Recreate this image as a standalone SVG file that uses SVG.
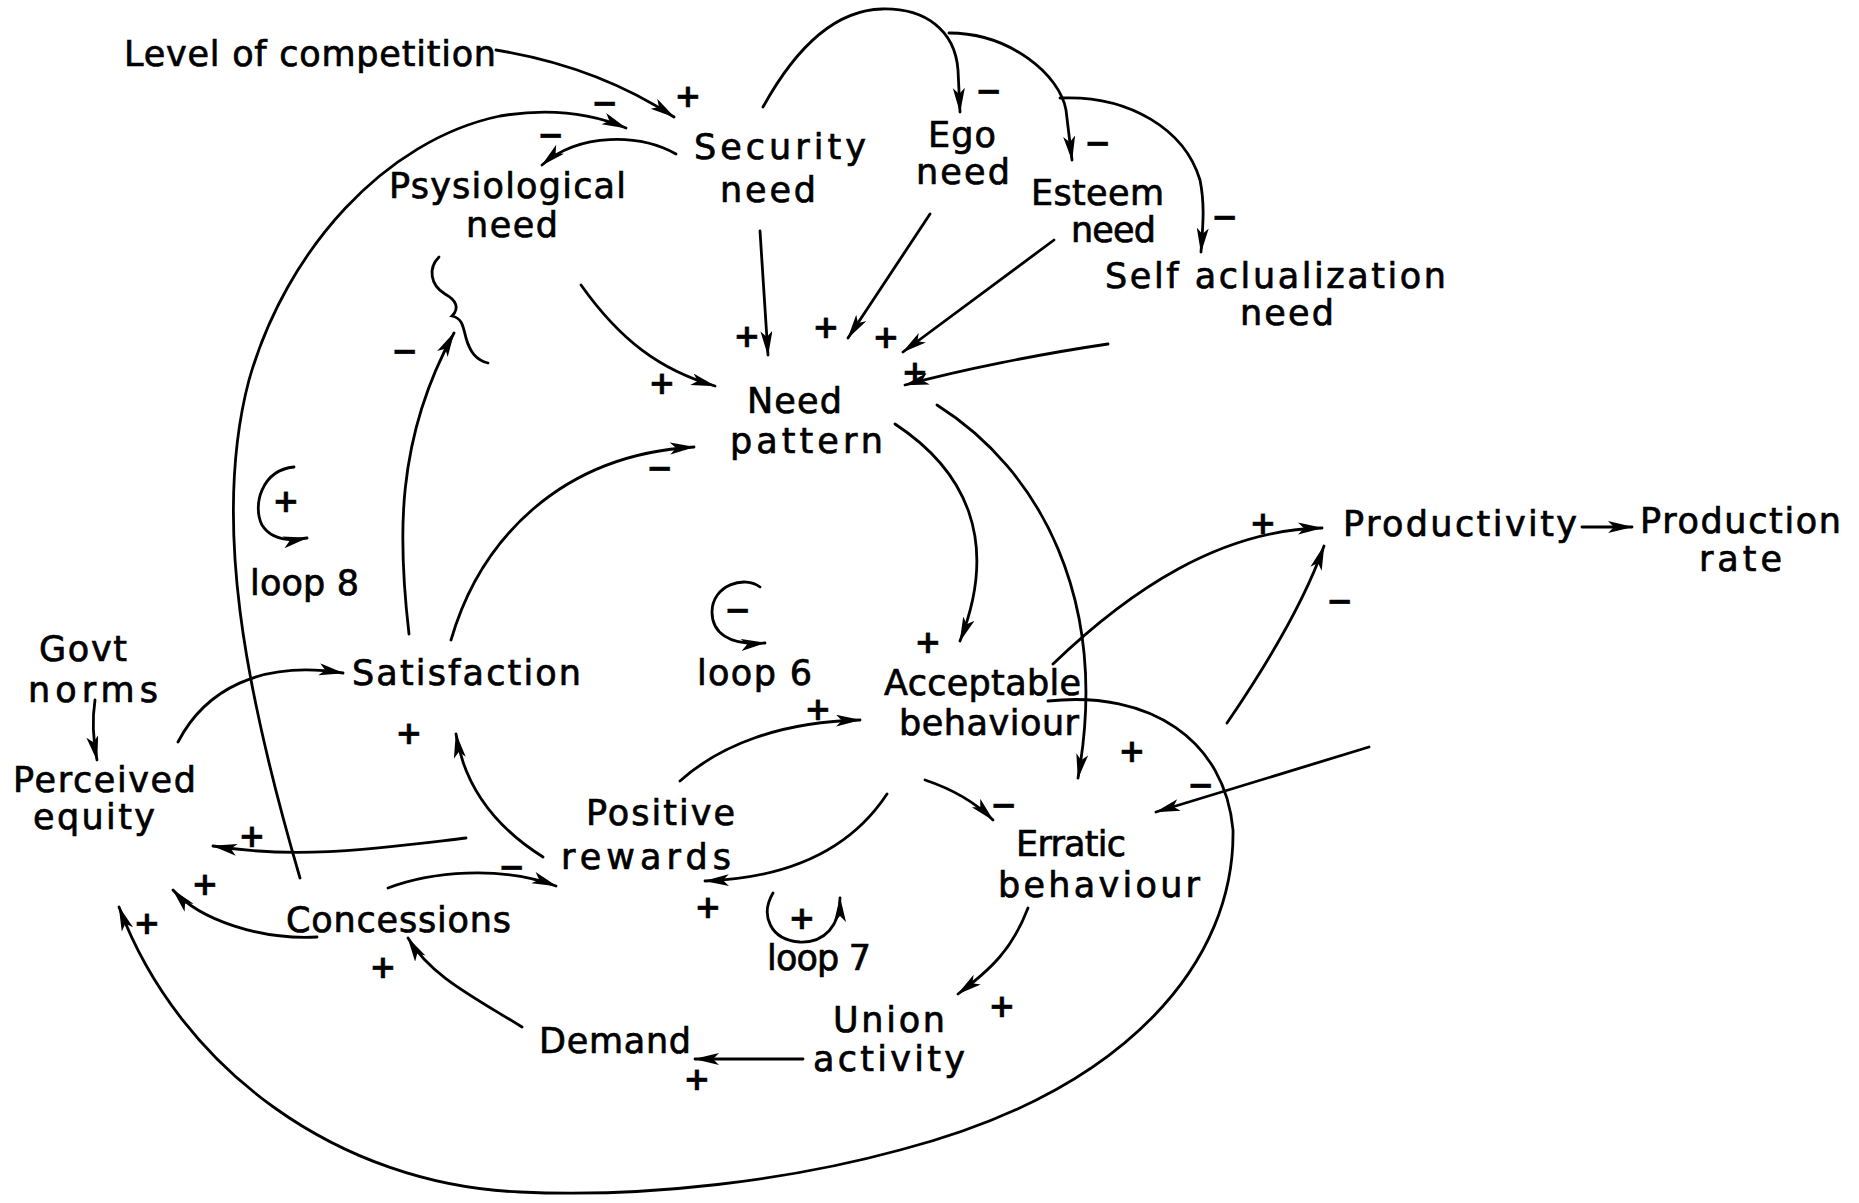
<svg xmlns="http://www.w3.org/2000/svg" width="1859" height="1203" viewBox="0 0 1859 1203">
<defs>
<marker id="ah" markerUnits="userSpaceOnUse" markerWidth="28" markerHeight="14" refX="24" refY="6" orient="auto">
<path d="M0,0 L25,6 L0,12 L6,6 z" fill="#000"/>
</marker>
<style>
text{font-family:"DejaVu Sans","Liberation Sans",sans-serif;fill:#000;stroke:#000;stroke-width:0.7;}
.n{font-size:35px;}
.s{font-size:32px;font-weight:bold;text-anchor:middle;stroke-width:0.4;}
.c{fill:none;stroke:#000;stroke-width:2.8;stroke-linecap:round;}
.a{marker-end:url(#ah);}
</style>
</defs>
<rect width="1859" height="1203" fill="#fff"/>
<g id="connectors">
<path class="c a" d="M496,50 C570,62 630,88 674,117"/>
<path class="c a" d="M300,878 C245,690 212,520 249,380 C286,250 385,140 500,116 C560,106 600,117 626,128"/>
<path class="c a" d="M676,154 C640,134 580,132 542,165"/>
<path class="c a" d="M763,107 C800,40 840,10 882,9 C925,8 955,30 958,70 L960,112"/>
<path class="c a" d="M949,33 C1010,33 1060,75 1066,110 L1072,160"/>
<path class="c a" d="M1060,98 C1130,95 1185,130 1200,180 C1205,205 1203,225 1201,252"/>
<path class="c a" d="M760,231 L768,355"/>
<path class="c a" d="M581,285 C620,340 660,370 715,386"/>
<path class="c a" d="M930,214 L848,338"/>
<path class="c a" d="M1054,240 L903,352"/>
<path class="c a" d="M1108,344 C1040,354 960,370 905,385"/>
<path class="c a" d="M895,424 C965,470 1000,540 960,641"/>
<path class="c a" d="M937,405 C1040,470 1110,600 1078,778"/>
<path class="c a" d="M451,640 C480,540 560,455 694,447"/>
<path class="c a" d="M409,634 C398,540 395,440 454,333"/>
<path class="c" d="M439,257 C428,268 430,285 445,294 C456,300 460,308 452,316 C462,318 463,326 466,338 C470,352 476,360 488,363"/>
<path class="c a" d="M1053,664 C1130,590 1220,530 1322,528"/>
<path class="c a" d="M1582,527 L1632,527"/>
<path class="c a" d="M1227,723 C1270,660 1305,600 1324,546"/>
<path class="c a" d="M1369,747 L1156,812"/>
<path class="c a" d="M1048,701 C1150,690 1225,740 1233,830 C1235,960 1130,1090 900,1150 C790,1180 650,1198 520,1192 C340,1185 180,1070 119,907"/>
<path class="c a" d="M887,794 C850,850 790,878 705,881"/>
<path class="c a" d="M680,781 C720,745 780,722 860,720"/>
<path class="c a" d="M925,780 C955,790 978,805 993,820"/>
<path class="c a" d="M1028,908 C1012,950 990,970 958,994"/>
<path class="c a" d="M803,1059 L695,1059"/>
<path class="c a" d="M522,1027 C470,995 430,975 408,938"/>
<path class="c a" d="M388,888 C430,872 500,865 556,886"/>
<path class="c a" d="M466,838 C380,848 300,860 213,846"/>
<path class="c a" d="M317,937 C260,940 200,920 173,890"/>
<path class="c a" d="M543,857 C500,830 465,790 456,734"/>
<path class="c a" d="M178,742 C205,690 260,660 343,673"/>
<path class="c a" d="M95,700 C92,720 93,740 97,760"/>
<path class="c a" d="M294,467 C262,470 252,505 262,525 C270,538 285,542 307,538"/>
<path class="c a" d="M760,587 C745,575 712,585 712,612 C712,632 728,646 765,643"/>
<path class="c a" d="M773,893 C760,915 770,940 800,942 C825,943 840,925 840,898"/>
</g>
<g id="signs">
<text class="s" x="688" y="107">+</text>
<text class="s" x="605" y="114">−</text>
<text class="s" x="551" y="146">−</text>
<text class="s" x="989" y="102">−</text>
<text class="s" x="1098" y="154">−</text>
<text class="s" x="1225" y="228">−</text>
<text class="s" x="747" y="347">+</text>
<text class="s" x="826" y="338">+</text>
<text class="s" x="886" y="348">+</text>
<text class="s" x="915" y="383">+</text>
<text class="s" x="662" y="394">+</text>
<text class="s" x="405" y="362">−</text>
<text class="s" x="660" y="479">−</text>
<text class="s" x="286" y="512">+</text>
<text class="s" x="738" y="621">−</text>
<text class="s" x="928" y="653">+</text>
<text class="s" x="1263" y="534">+</text>
<text class="s" x="1340" y="612">−</text>
<text class="s" x="818" y="720">+</text>
<text class="s" x="1132" y="762">+</text>
<text class="s" x="1201" y="796">−</text>
<text class="s" x="1004" y="816">−</text>
<text class="s" x="409" y="744">+</text>
<text class="s" x="252" y="847">+</text>
<text class="s" x="512" y="878">−</text>
<text class="s" x="205" y="895">+</text>
<text class="s" x="147" y="934">+</text>
<text class="s" x="708" y="918">+</text>
<text class="s" x="802" y="929">+</text>
<text class="s" x="1002" y="1017">+</text>
<text class="s" x="697" y="1090">+</text>
<text class="s" x="383" y="978">+</text>
</g>
<g id="level-of-competition"><text class="n" x="124" y="66" textLength="372" lengthAdjust="spacing">Level of competition</text></g>
<g id="security-need"><text class="n" x="694" y="159" textLength="172" lengthAdjust="spacing">Security</text><text class="n" x="720" y="202" textLength="96" lengthAdjust="spacing">need</text></g>
<g id="psysiological-need"><text class="n" x="389" y="198" textLength="237" lengthAdjust="spacing">Psysiological</text><text class="n" x="466" y="237" textLength="92" lengthAdjust="spacing">need</text></g>
<g id="ego-need"><text class="n" x="928" y="147" textLength="68" lengthAdjust="spacing">Ego</text><text class="n" x="916" y="184" textLength="94" lengthAdjust="spacing">need</text></g>
<g id="esteem-need"><text class="n" x="1031" y="205" textLength="133" lengthAdjust="spacing">Esteem</text><text class="n" x="1071" y="242" textLength="85" lengthAdjust="spacing">need</text></g>
<g id="self-actualization-need"><text class="n" x="1105" y="288" textLength="341" lengthAdjust="spacing">Self aclualization</text><text class="n" x="1240" y="325" textLength="94" lengthAdjust="spacing">need</text></g>
<g id="need-pattern"><text class="n" x="747" y="413" textLength="95" lengthAdjust="spacing">Need</text><text class="n" x="730" y="453" textLength="153" lengthAdjust="spacing">pattern</text></g>
<g id="productivity"><text class="n" x="1343" y="536" textLength="234" lengthAdjust="spacing">Productivity</text></g>
<g id="production-rate"><text class="n" x="1640" y="533" textLength="201" lengthAdjust="spacing">Production</text><text class="n" x="1699" y="571" textLength="83" lengthAdjust="spacing">rate</text></g>
<g id="govt-norms"><text class="n" x="39" y="661" textLength="88" lengthAdjust="spacing">Govt</text><text class="n" x="28" y="702" textLength="130" lengthAdjust="spacing">norms</text></g>
<g id="perceived-equity"><text class="n" x="13" y="792" textLength="183" lengthAdjust="spacing">Perceived</text><text class="n" x="33" y="829" textLength="122" lengthAdjust="spacing">equity</text></g>
<g id="satisfaction"><text class="n" x="352" y="685" textLength="229" lengthAdjust="spacing">Satisfaction</text></g>
<g id="loop-8"><text class="n" x="250" y="595" textLength="109" lengthAdjust="spacing">loop 8</text></g>
<g id="loop-6"><text class="n" x="697" y="685" textLength="115" lengthAdjust="spacing">loop 6</text></g>
<g id="acceptable-behaviour"><text class="n" x="884" y="695" textLength="197" lengthAdjust="spacing">Acceptable</text><text class="n" x="899" y="735" textLength="180" lengthAdjust="spacing">behaviour</text></g>
<g id="positive-rewards"><text class="n" x="586" y="825" textLength="149" lengthAdjust="spacing">Positive</text><text class="n" x="561" y="869" textLength="170" lengthAdjust="spacing">rewards</text></g>
<g id="concessions"><text class="n" x="286" y="932" textLength="225" lengthAdjust="spacing">Concessions</text></g>
<g id="loop-7"><text class="n" x="767" y="970" textLength="104" lengthAdjust="spacing">loop 7</text></g>
<g id="erratic-behaviour"><text class="n" x="1016" y="856" textLength="110" lengthAdjust="spacing">Erratic</text><text class="n" x="998" y="897" textLength="202" lengthAdjust="spacing">behaviour</text></g>
<g id="union-activity"><text class="n" x="833" y="1032" textLength="112" lengthAdjust="spacing">Union</text><text class="n" x="813" y="1071" textLength="152" lengthAdjust="spacing">activity</text></g>
<g id="demand"><text class="n" x="539" y="1053" textLength="152" lengthAdjust="spacing">Demand</text></g>
</svg>
